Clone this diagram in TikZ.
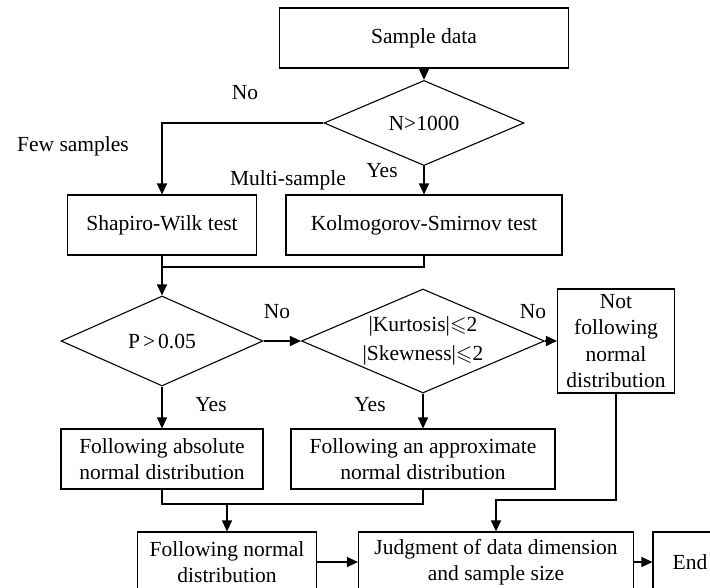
\documentclass[tikz,border=0pt]{standalone}
\usepackage{fontspec}
\usepackage{amssymb}
\setmainfont{Liberation Serif}
\usetikzlibrary{shapes.geometric, arrows.meta, calc}

\begin{document}
\begin{tikzpicture}[x=1pt, y=-1pt, line width=1.1pt,
		font=\fontsize{21.5}{26.5}\selectfont,
		box/.style={draw, rectangle, inner sep=0pt, align=center},
		decision/.style={draw, diamond, inner sep=0pt, align=center},
		arr/.style={-{Triangle[length=11pt, width=10pt]}},
		lbl/.style={inner sep=0pt}
	]
	\useasboundingbox (0,0) rectangle (710,587);
	\clip (0,0) rectangle (710,587);

	% Boxes
	\node[box, minimum width=289pt, minimum height=60pt] (sample) at (424,38) {Sample data};
	\node[decision, minimum width=200pt, minimum height=71pt] (ntest) at (424,123) {N>1000};
	\node[box, minimum width=189pt, minimum height=60pt] (sw) at (162,225) {Shapiro-Wilk test};
	\node[box, minimum width=276pt, minimum height=60pt] (ks) at (424,225) {Kolmogorov-Smirnov test};
	\node[decision, minimum width=202pt, minimum height=90pt] (ptest) at (162,341) {P\hspace{3pt}>\hspace{3pt}0.05};
	\node[decision, minimum width=243pt, minimum height=104pt] (ktest) at (423,341) {};
	\node[lbl, align=center] (ktext) at (ktest.center)
		{|Kurtosis|$\leqslant$2\\[3pt]|Skewness|$\leqslant$2};
	\node[box, minimum width=117pt, minimum height=104pt] (notnd) at (616,341)
		{Not\\following\\normal\\distribution};
	\node[box, minimum width=202pt, minimum height=60pt] (absnd) at (162,459)
		{Following absolute\\normal distribution};
	\node[box, minimum width=264pt, minimum height=60pt] (apprnd) at (423,459)
		{Following an approximate\\normal distribution};
	\node[box, minimum width=179pt, minimum height=60pt] (follownd) at (227,562)
		{Following normal\\distribution};
	\node[box, minimum width=275pt, minimum height=60pt] (judge) at (496,562)
		{Judgment of data dimension\\and sample size};
	\node[box, minimum width=74pt, minimum height=60pt] (finish) at (690,562) {End};

	% Labels
	\node[lbl] (no1) at (245,93) {No};
	\node[lbl] (few) at (73,146) {Few samples};
	\node[lbl] (multi) at (288,180) {Multi-sample};
	\node[lbl] (yes1) at (382,171) {Yes};
	\node[lbl] (no2) at (277,312) {No};
	\node[lbl] (no3) at (533,312) {No};
	\node[lbl] (yes2) at (211,405) {Yes};
	\node[lbl] (yes3) at (370,405) {Yes};

	% Junctions
	\coordinate (j1) at (162,267);
	\coordinate (j2) at (227,504);
	\coordinate (j3) at (616,500);

	% Connectors
	\draw[arr] (sample.south) -- (ntest.north);
	\draw[arr] (ntest.west) -| (sw.north);
	\draw[arr] (ntest.south) -- (ks.north);
	\draw (ks.south) |- (j1);
	\draw[arr] (sw.south) -- (ptest.north);
	\draw[arr] (ptest.east) -- (ktest.west);
	\draw[arr] (ktest.east) -- (notnd.west);
	\draw[arr] (ptest.south) -- (absnd.north);
	\draw[arr] (ktest.south) -- (apprnd.north);
	\draw (absnd.south) |- (j2) -| (apprnd.south);
	\draw[arr] (j2) -- (follownd.north);
	\draw[arr] (notnd.south) -- (j3) -| (judge.north);
	\draw[arr] (follownd.east) -- (judge.west);
	\draw[arr] (judge.east) -- (finish.west);
\end{tikzpicture}
\end{document}
